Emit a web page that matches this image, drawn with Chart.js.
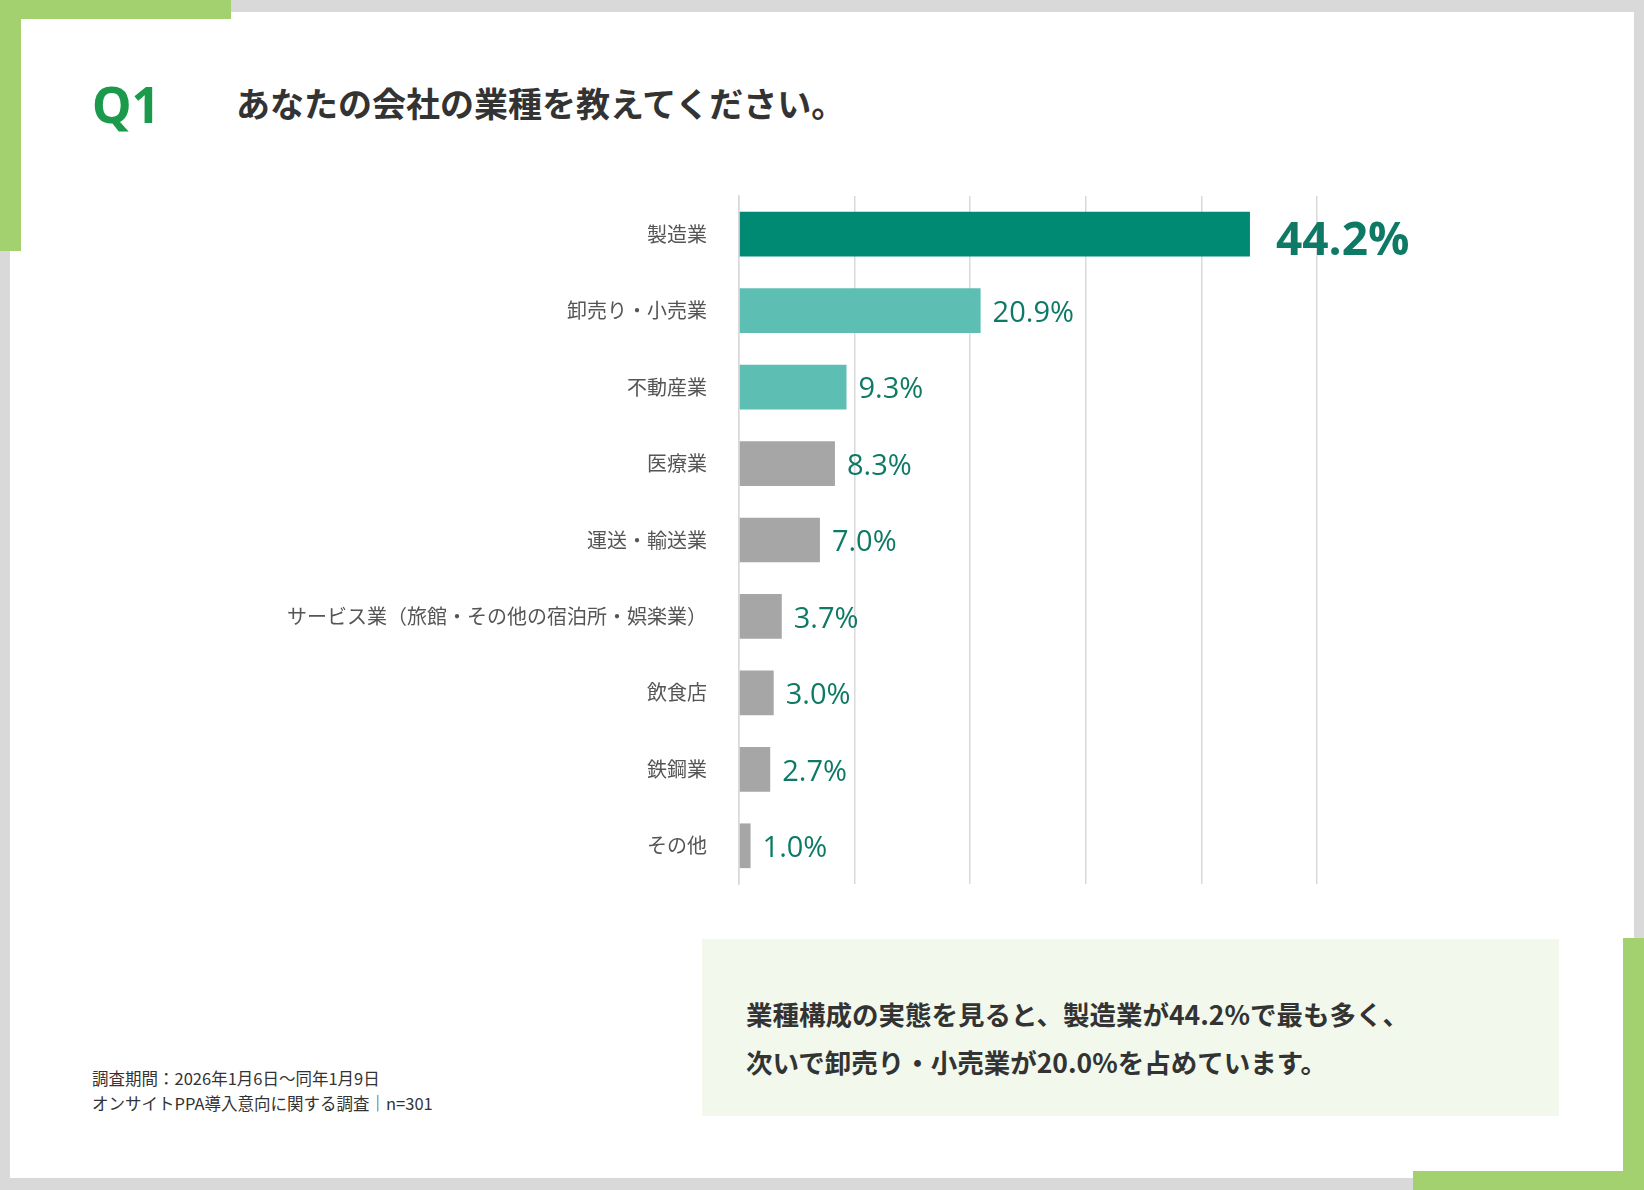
<!DOCTYPE html>
<html><head><meta charset="utf-8">
<script src="https://cdn.jsdelivr.net/npm/chart.js@4"></script>
<style>
body{margin:0;width:1644px;height:1190px;background:#d9d9d9;font-family:"Noto Sans CJK JP",sans-serif;overflow:hidden}
#page{position:absolute;left:10px;top:12px;width:1624px;height:1166px;background:#fff}
.g{position:absolute;background:#a3d16f}
#q{position:absolute;left:92px;top:70px;font:bold 50px "Noto Sans",sans-serif;color:#1a9a4a}
#t{position:absolute;left:236px;top:78px;font-weight:bold;font-size:34px;color:#333}
#note{position:absolute;left:92px;top:1066px;font-size:16.5px;color:#333;line-height:25px}
#box{position:absolute;left:702px;top:939px;width:857px;height:177px;background:#f2f8ec}
#box p{margin:0;position:absolute;left:44px;top:51px;font-weight:bold;font-size:26.5px;color:#333;line-height:48px}
#c{position:absolute;left:150px;top:160px}
</style></head><body>
<div id="page"></div>
<div class="g" style="left:0;top:0;width:231px;height:19px"></div>
<div class="g" style="left:0;top:0;width:21px;height:251px"></div>
<div class="g" style="left:1623px;top:938px;width:21px;height:252px"></div>
<div class="g" style="left:1413px;top:1171px;width:231px;height:19px"></div>
<div id="q">Q1</div>
<div id="t">あなたの会社の業種を教えてください。</div>
<div id="box"><p>業種構成の実態を見ると、製造業が44.2%で最も多く、<br>次いで卸売り・小売業が20.0%を占めています。</p></div>
<div id="note">調査期間：2026年1月6日〜同年1月9日<br>オンサイトPPA導入意向に関する調査│n=301</div>
<canvas id="c" width="1300" height="760"></canvas>
<script>
const categories = ['製造業','卸売り・小売業','不動産業','医療業','運送・輸送業','サービス業（旅館・その他の宿泊所・娯楽業）','飲食店','鉄鋼業','その他'];
const values = [44.2,20.9,9.3,8.3,7.0,3.7,3.0,2.7,1.0];
const colors = ['#008a73','#5dbfb4','#5dbfb4','#a6a6a6','#a6a6a6','#a6a6a6','#a6a6a6','#a6a6a6','#a6a6a6'];

const valueLabels = {
  id:'valueLabels',
  afterDatasetsDraw(chart){
    const ctx = chart.ctx, meta = chart.getDatasetMeta(0);
    ctx.save();
    ctx.fillStyle = '#0e7a66';
    ctx.textBaseline = 'middle';
    meta.data.forEach((bar,i)=>{
      if(i===0){ ctx.font = 'bold 46px "Open Sans"'; ctx.fillText(values[i].toFixed(1)+'%', bar.x+26, bar.y+8); }
      else { ctx.font = '29px "Open Sans"'; ctx.fillText(values[i].toFixed(1)+'%', bar.x+12, bar.y+3); }
    });
    ctx.restore();
  }
};

new Chart(document.getElementById('c'), {
  type:'bar',
  data:{labels:categories,datasets:[{data:values,backgroundColor:colors,categoryPercentage:1,barPercentage:0.585}]},
  options:{
    indexAxis:'y',responsive:false,animation:false,
    layout:{padding:{top:8,bottom:13,right:133}},
    plugins:{legend:{display:false},tooltip:{enabled:false}},
    scales:{
      x:{min:0,max:50,ticks:{display:false,stepSize:10},grid:{color:'#d9d9d9',lineWidth:1.5,drawTicks:false},border:{display:false}},
      y:{grid:{display:false},border:{color:'#d9d9d9',width:1.5},
         ticks:{color:'#555',font:{size:20,family:'"Noto Sans CJK JP"'},padding:24},
         afterFit(s){s.width=589;}}
    }
  },
  plugins:[valueLabels]
});
</script>
</body></html>
